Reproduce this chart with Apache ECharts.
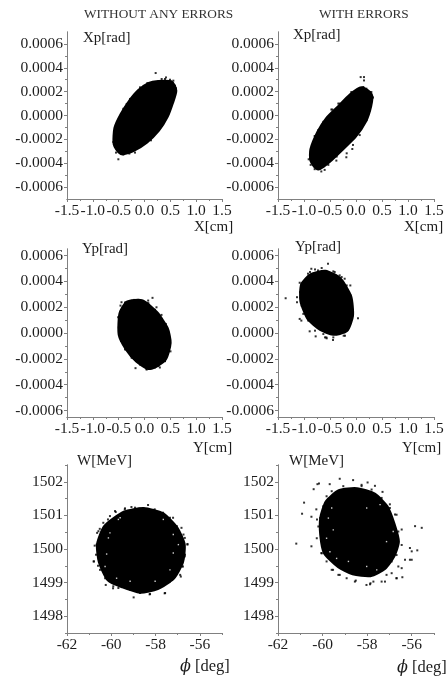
<!DOCTYPE html>
<html><head><meta charset="utf-8">
<style>html,body{margin:0;padding:0;background:#fff}#c{width:447px;height:678px}</style>
<script src="https://cdn.jsdelivr.net/npm/echarts@6/dist/echarts.min.js"></script>
</head><body><div id="c"></div>
<script>
// y values of the phase-space panels are in mrad (multiplied by 0.001 below)
const xTicks = [-1.5,-1,-0.5,0,0.5,1,1.5];
const xMinorTicks = [-1.25,-0.75,-0.25,0.25,0.75,1.25];
const radTicks = [-0.0006,-0.0004,-0.0002,0,0.0002,0.0004,0.0006];
const radMinorTicks = [-0.0005,-0.0003,-0.0001,0.0001,0.0003,0.0005];
const phiTicks = [-62,-60,-58,-56];
const phiMinorTicks = [-61,-59,-57,-55];
const wTicks = [1498,1499,1500,1501,1502];
const wMinorTicks = [1497.5,1498.5,1499.5,1500.5,1501.5,1502.5];

// core = outline of the solid black cloud, edge = the loose points read around it
const core1 = [[.268,.264],[.494,.264],[.558,.208],[.494,.111],[.397,0],[.235,-.111],[.010,-.208],[-.248,-.278],[-.442,-.300],[-.539,-.236],[-.526,-.111],[-.410,0],[-.248,.111],[-.087,.194],[.106,.250]];
const edge1 = [[.216,.356],[.332,.306],[.416,.319],[.494,.300],[.558,.292],[.610,.228],[.558,.208],[.513,.111],[.481,.056],[.416,-.022],[.352,-.061],[.203,-.139],[.126,-.208],[-.023,-.236],[-.184,-.311],[-.294,-.319],[-.410,-.328],[-.506,-.367],[-.552,-.311],[-.590,-.208],[-.603,-.222],[-.506,-.083],[-.442,0],[-.410,.056],[-.281,.139],[-.197,.167],[-.087,.236],[.055,.272],[.171,.278],[.268,.283],
 [-.345,.097],[-.216,.139],[-.023,.222],[.139,.264],[.235,.278],[.397,.306],[.590,.250],[.545,.167],[.461,.069],[.377,-.028],[.268,-.097],[.106,-.181],[-.087,-.250],[-.313,-.300],[-.474,-.311],[-.571,-.264],[-.552,-.139],[-.474,-.042],[-.377,.028]];

const core2 = [[.109,.211],[.250,.169],[.237,.086],[.141,-.039],[-.051,-.164],[-.276,-.261],[-.532,-.367],[-.724,-.428],[-.821,-.372],[-.821,-.289],[-.692,-.150],[-.532,-.039],[-.308,.058],[-.083,.156]];
const edge2 = [[.090,.322],[.154,.322],[.154,.294],[.135,.233],[.199,.225],[.295,.197],[.327,.150],[.276,.094],[.231,.031],[.135,-.081],[.071,-.164],[-.058,-.247],[-.186,-.350],[-.378,-.378],[-.603,-.456],[-.667,-.469],[-.795,-.450],[-.910,-.367],[-.872,-.414],[-.846,-.317],[-.795,-.172],[-.635,-.067],[-.474,.050],[-.314,.100],[-.090,.197],[.051,.211],
 [.141,.239],[.269,.197],[.314,.156],[.269,.044],[.205,-.039],[.077,-.108],[-.071,-.281],[-.179,-.317],[-.372,-.344],[-.532,-.414],[-.628,-.428],[-.885,-.358],[-.853,-.275],[-.724,-.122],[-.628,-.053],[-.455,.050],[-.340,.100],[-.179,.142],[.013,.197]];

const core3 = [[-.313,.223],[-.055,.231],[.203,.145],[.397,.028],[.448,-.075],[.365,-.192],[.106,-.256],[-.119,-.205],[-.313,-.114],[-.442,-.010],[-.429,.145]];
const edge3 = [[.155,.272],[.071,.251],[-.200,.256],[-.445,.238],[-.465,.212],[-.510,.122],[-.497,.044],[-.445,-.047],[-.361,-.119],[-.252,-.171],[-.174,-.272],[.039,-.280],[.200,-.267],[.297,-.267],[.394,-.215],[.439,-.150],[.503,-.142],[.445,.005],[.413,.070],[.329,.140],[.232,.199],[.039,.233],
 [-.377,.236],[-.248,.249],[-.119,.256],[.074,.231],[.203,.179],[.332,.106],[.429,.028],[.474,-.049],[.474,-.140],[.397,-.218],[.268,-.256],[.042,-.282],[-.087,-.244],[-.248,-.192],[-.377,-.127],[-.455,-.062],[-.494,.028],[-.474,.119],[-.442,.171]];

const core4 = [[-.853,.433],[-.596,.459],[-.340,.407],[-.147,.277],[-.115,.135],[-.212,.031],[-.436,.010],[-.660,.044],[-.885,.122],[-1.013,.251],[-1.000,.368]];
const edge4 = [[-.538,.536],[-.583,.479],[-.859,.497],[-.923,.459],[-1.083,.389],[-1.353,.269],[-1.135,.277],[-1.135,.238],[-1.083,.109],[-1.051,.096],[-.891,.013],[-.776,-.026],[-.571,-.034],[-.442,-.054],[-.237,-.021],[-.199,.018],[.038,.114],[-.103,.238],[-.109,.368],[-.218,.420],[-.314,.446],[-.410,.472],[-.731,.484],
 [-.949,.420],[-.885,.472],[-.788,.492],[-.660,.503],[-.436,.477],[-.276,.433],[-.179,.368],[-.103,.290],[-.083,.212],[-.083,.109],[-.147,.044],[-.212,-.021],[-.436,-.034],[-.628,-.008],[-.788,.018],[-.917,.096],[-1.013,.148],[-1.045,.212],[-1.077,.316],[-1.045,.381],[-.596,-.034],[-.564,-.041]];

const core5 = [[-59.38,1501.03],[-58.55,1501.13],[-57.72,1500.98],[-57.12,1500.58],[-56.82,1500.13],[-56.89,1499.63],[-57.27,1499.18],[-57.95,1498.89],[-58.70,1498.79],[-59.45,1498.94],[-60.06,1499.13],[-60.43,1499.63],[-60.51,1500.13],[-60.21,1500.63]];
const edge5 = [[-58.34,1501.31],[-58.72,1501.20],[-59.09,1501.25],[-59.39,1501.18],[-59.80,1501.10],[-60.15,1500.88],[-60.52,1500.60],[-60.64,1500.48],[-60.75,1500.10],[-60.80,1499.63],[-60.60,1499.50],[-60.25,1498.93],[-59.92,1498.83],[-58.99,1498.56],[-58.27,1498.65],[-57.59,1498.68],[-57.36,1499.03],[-56.86,1499.18],[-56.79,1499.48],[-56.68,1499.78],[-56.56,1500.15],[-56.68,1500.33],[-56.83,1500.63],[-57.21,1500.93],[-57.66,1501.08],[-58.04,1501.18],
 [-60.06,1500.98],[-59.83,1501.13],[-59.38,1501.21],[-58.93,1501.23],[-58.55,1501.21],[-58.17,1501.13],[-57.80,1501.08],[-57.35,1500.93],[-57.04,1500.68],[-56.74,1500.43],[-56.56,1500.13],[-56.67,1499.83],[-56.77,1499.48],[-56.89,1499.23],[-57.57,1498.69],[-58.25,1498.66],[-58.70,1498.69],[-59.15,1498.79],[-59.68,1498.84],[-59.91,1498.89],[-60.28,1499.13],[-60.51,1499.38],[-60.69,1499.83],[-60.78,1499.63],[-60.66,1500.13],[-60.58,1500.53],[-60.36,1500.78]];
const gaps5 = [[-60.21,1499.85],[-60.13,1500.33],[-60.28,1499.48],[-59.60,1500.93],[-57.65,1500.88],[-57.20,1500.43],[-57.35,1499.38],[-59.15,1499.04],[-59.76,1499.13],[-57.20,1499.88],[-58.02,1499.04],[-56.97,1500.13],[-59.68,1500.88],[-60.06,1500.48]];

const core6 = [[-59.22,1501.67],[-58.47,1501.72],[-57.72,1501.57],[-57.20,1501.22],[-56.90,1500.72],[-56.71,1500.22],[-56.90,1499.82],[-57.27,1499.48],[-57.87,1499.28],[-58.62,1499.33],[-59.22,1499.53],[-59.82,1499.92],[-59.97,1500.42],[-59.97,1500.92],[-59.74,1501.37]];
const edge6 = [[-59.23,1502.09],[-58.63,1502.05],[-57.98,1501.98],[-59.68,1501.93],[-60.16,1501.95],[-60.23,1501.93],[-60.40,1501.78],[-60.83,1501.38],[-60.92,1501.05],[-60.50,1500.96],[-60.28,1501.18],[-60.25,1500.88],[-61.18,1500.16],[-60.50,1500.08],[-60.05,1499.88],[-59.53,1499.38],[-59.23,1499.23],[-58.51,1499.06],[-58.03,1498.93],[-57.85,1498.98],[-57.20,1499.03],[-56.68,1499.13],[-56.42,1499.16],[-56.00,1499.68],[-56.08,1500.03],[-56.00,1499.93],[-55.75,1499.96],[-55.85,1500.68],[-55.55,1500.63],[-56.45,1500.58],[-56.75,1501.03],[-56.98,1501.33],[-57.31,1501.70],[-57.65,1501.88],[-58.25,1501.91],
 [-59.82,1501.57],[-59.59,1501.72],[-59.07,1501.87],[-58.25,1501.87],[-57.80,1501.77],[-57.35,1501.52],[-56.98,1501.22],[-56.68,1501.02],[-56.60,1500.52],[-56.45,1500.12],[-56.68,1499.82],[-56.90,1499.63],[-56.60,1499.48],[-57.13,1499.23],[-57.72,1499.03],[-57.87,1498.95],[-58.55,1499.03],[-58.92,1499.13],[-59.29,1499.23],[-59.59,1499.38],[-59.82,1499.63],[-60.04,1499.87],[-60.26,1500.32],[-60.19,1500.67],[-60.11,1500.92],[-59.97,1501.27],[-56.30,1499.68],[-56.08,1499.68],[-56.45,1499.43],[-56.68,1499.13],[-56.90,1499.28],[-57.35,1499.03]];
const gaps6 = [[-59.74,1500.92],[-59.59,1501.22],[-59.37,1499.72],[-58.84,1499.63],[-58.02,1499.48],[-57.57,1499.38],[-57.13,1500.22],[-56.83,1500.52],[-57.42,1501.32],[-59.82,1500.32],[-59.67,1499.92],[-58.02,1501.22],[-59.52,1500.57]];

const toRad = a => a.map(p => [p[0], p[1] * 0.001]);
const FONT = '"Liberation Serif","Times New Roman",serif';
const INK = '#1c1c1c', AXIS = '#808080';

const panels = [
 {core:toRad(core1),edge:toRad(edge1),gaps:[],box:[67,32,155,167],x:[-1.5,1.5,xTicks,xMinorTicks],y:[-0.0007,0.0007,radTicks,radMinorTicks],fx:v=>v.toFixed(1),fy:v=>v.toFixed(4)},
 {core:toRad(core2),edge:toRad(edge2),gaps:[],box:[278,32,156,167],x:[-1.5,1.5,xTicks,xMinorTicks],y:[-0.0007,0.0007,radTicks,radMinorTicks],fx:v=>v.toFixed(1),fy:v=>v.toFixed(4)},
 {core:toRad(core3),edge:toRad(edge3),gaps:[],box:[67,249,155,168],x:[-1.5,1.5,xTicks,xMinorTicks],y:[-0.00065,0.00065,radTicks,radMinorTicks],fx:v=>v.toFixed(1),fy:v=>v.toFixed(4)},
 {core:toRad(core4),edge:toRad(edge4),gaps:[],box:[278,249,156,168],x:[-1.5,1.5,xTicks,xMinorTicks],y:[-0.00065,0.00065,radTicks,radMinorTicks],fx:v=>v.toFixed(1),fy:v=>v.toFixed(4)},
 {core:core5,edge:edge5,gaps:gaps5,box:[67,465,155,168],x:[-62,-55,phiTicks,phiMinorTicks],y:[1497.5,1502.5,wTicks,wMinorTicks],fx:v=>String(v),fy:v=>String(v)},
 {core:core6,edge:edge6,gaps:gaps6,box:[278,465,156,168],x:[-62,-55,phiTicks,phiMinorTicks],y:[1497.5,1502.5,wTicks,wMinorTicks],fx:v=>String(v),fy:v=>String(v)}
];

const PHI = '{p|\u03D5}{d| [deg]}';
const texts = [
 ['WITHOUT ANY ERRORS',84,15,13.3,'#333'],['WITH ERRORS',319,15,13.3,'#333'],
 ['Xp[rad]',83,38,15],['X[cm]',194,227,15],
 ['Xp[rad]',293,35,15],['X[cm]',404,227,15],
 ['Yp[rad]',82,249,15],['Y[cm]',193,448,15],
 ['Yp[rad]',295,247,15],['Y[cm]',402,448,15],
 ['W[MeV]',77,461,15],[PHI,180,667,16],
 ['W[MeV]',289,461,15],[PHI,397,668,16]
];

const axisCommon = {type:'value',axisLine:{onZero:false,lineStyle:{color:AXIS,width:1}},splitLine:{show:false}};
const grid=[],xAxis=[],yAxis=[],series=[];
panels.forEach((p,i)=>{
  const [l,t,w,h]=p.box;
  grid.push({left:l,top:t,width:w,height:h});
  const base=(idx,pos,lim,fmt,minor)=>Object.assign({},axisCommon,{
    gridIndex:idx,position:pos,min:lim[0],max:lim[1],
    axisTick:{show:true,length:minor?2:3,lineStyle:{color:AXIS,width:1},customValues:minor?lim[3]:lim[2]},
    axisLabel:{show:!minor,margin:4,color:INK,fontFamily:FONT,fontSize:15.5,customValues:lim[2],formatter:fmt,showMinLabel:true,showMaxLabel:true,hideOverlap:false}
  });
  xAxis.push(base(i,'bottom',p.x,p.fx,false),base(i,'bottom',p.x,p.fx,true));
  yAxis.push(base(i,'left',p.y,p.fy,false),base(i,'left',p.y,p.fy,true));
  const xi=i*2, yi=i*2;
  series.push({type:'custom',coordinateSystem:'cartesian2d',xAxisIndex:xi,yAxisIndex:yi,data:p.core,silent:true,
    encode:{x:0,y:1},clip:false,
    renderItem:(params,api)=>{
      if(params.dataIndex!==0) return null;
      return {type:'polygon',shape:{points:p.core.map(q=>api.coord(q)),smooth:0.2},
        style:{fill:'#000',stroke:'#000',lineWidth:8,lineJoin:'round'}};
    }});
  series.push({type:'scatter',xAxisIndex:xi,yAxisIndex:yi,data:p.edge,symbol:'rect',symbolSize:2,itemStyle:{color:'#000'},silent:true});
  if(p.gaps.length) series.push({type:'scatter',xAxisIndex:xi,yAxisIndex:yi,data:p.gaps,symbol:'rect',symbolSize:1.4,itemStyle:{color:'#fff'},silent:true,z:3});
});

const chart=echarts.init(document.getElementById('c'),null,{renderer:'canvas'});
chart.setOption({
  animation:false,backgroundColor:'#fff',tooltip:{show:false},
  grid,xAxis,yAxis,series,
  graphic:texts.map(t=>({type:'text',x:t[1],y:t[2],silent:true,style:{
    text:t[0],fontFamily:FONT,fontSize:t[3],fill:t[4]||INK,textVerticalAlign:'middle',
    rich:{p:{fontFamily:'"DejaVu Serif",serif',fontStyle:'italic',fontSize:16,fill:INK},
          d:{fontFamily:FONT,fontSize:16.5,fill:INK}}
  }}))
});
</script></body></html>
